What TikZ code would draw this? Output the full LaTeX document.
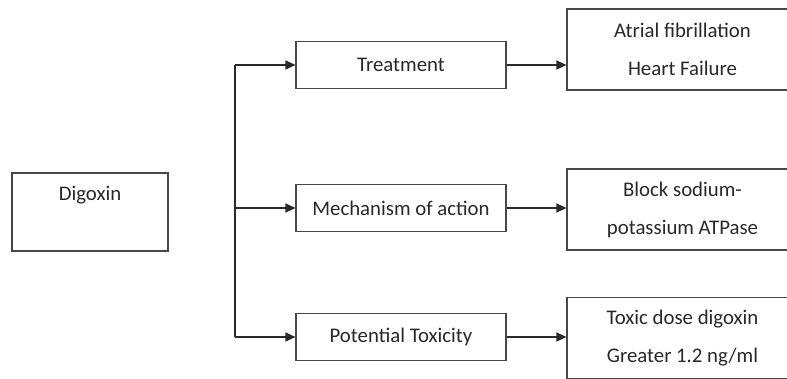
\documentclass[tikz,border=0pt]{standalone}
\usepackage{fontspec}
\setmainfont{Carlito}
\usetikzlibrary{arrows.meta}
\definecolor{ink}{HTML}{282828}
\begin{document}
\begin{tikzpicture}[x=0.5pt,y=0.5pt,
    box/.style={draw=ink!85,line width=0.55pt,text=ink,align=center,
        font=\fontsize{10.4}{19}\selectfont,inner sep=0pt},
    midbox/.style={box,minimum width=105pt,minimum height=23.5pt},
    endbox/.style={box,minimum width=115.5pt,minimum height=40.5pt},
    arr/.style={draw=ink,line width=0.6pt,-{Triangle[length=5pt,width=4.5pt]}}]
    \useasboundingbox (0,0) rectangle (787,379);
    \clip (0,0) rectangle (787,379);
    \node [box,minimum width=78pt,minimum height=39pt] (dig) at (90,167) {Digoxin\\[0pt]\mbox{}};
    \node [midbox] (treat) at (401,314) {Treatment};
    \node [midbox] (mech) at (401,171) {Mechanism of action};
    \node [midbox] (tox) at (401,42) {Potential Toxicity};
    \node [endbox] (af) at (682.5,329.5) {Atrial fibrillation\\Heart Failure};
    \node [endbox] (na) at (682.5,169.5) {Block sodium-\\potassium ATPase};
    \node [endbox] (dose) at (682.5,41) {Toxic dose digoxin\\Greater 1.2 ng/ml};
    \coordinate (trunk) at (235,0);
    \draw [ink,line width=0.6pt] (treat.west -| trunk) -- (tox.west -| trunk);
    \foreach \b/\e in {treat/af,mech/na,tox/dose} {
        \draw [arr] (\b.west -| trunk) -- (\b.west);
        \draw [arr] (\b.east) -- (\b.east -| \e.west);
    }
\end{tikzpicture}
\end{document}
